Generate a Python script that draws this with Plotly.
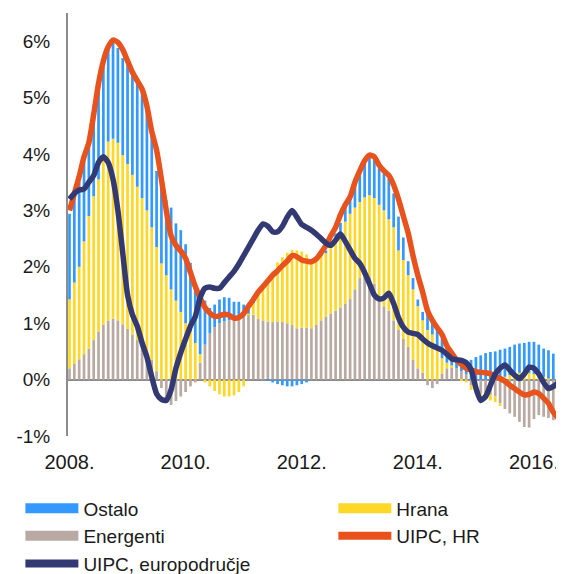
import plotly.graph_objects as go

# Monthly data, Jan 2008 - Jul 2016 (contributions in percentage points, rates in %)
year_labels = ["2008.", "2010.", "2012.", "2014.", "2016."]
year_months = [0, 24, 48, 72, 96]  # month index of January of each labelled year

energenti = [
    0.20, 0.28, 0.36, 0.45, 0.55, 0.70, 0.85, 0.97, 1.05, 1.08, 1.05, 0.98,
    0.90, 0.80, 0.70, 0.60, 0.48, 0.35, 0.15, -0.15, -0.40, -0.45, -0.38, -0.30,
    -0.22, -0.12, -0.05, 0.30, 0.62, 0.82, 0.93, 1.00, 1.03, 1.05, 1.08, 1.10,
    1.13, 1.15, 1.15, 1.08, 1.05, 1.03, 1.02, 1.03, 1.02, 1.00, 0.97, 0.91,
    0.92, 0.92, 0.91, 0.97, 1.05, 1.12, 1.17, 1.22, 1.28, 1.35, 1.44, 1.60,
    1.80, 1.85, 1.82, 1.70, 1.45, 1.30, 1.22, 1.05, 0.88, 0.72, 0.58, 0.35,
    0.20, 0.12, -0.10, -0.15, -0.08, 0.10, 0.20, 0.22, 0.20, 0.15, 0.10, -0.10,
    -0.20, -0.25, -0.28, -0.27, -0.30, -0.42, -0.52, -0.60, -0.66, -0.75, -0.84, -0.85,
    -0.70, -0.63, -0.66, -0.68, -0.72, -0.75, -0.77,
]
hrana = [
    1.22, 1.44, 1.64, 2.00, 2.35, 2.55, 2.70, 2.98, 3.17, 3.19, 3.15, 3.00,
    2.92, 2.83, 2.72, 2.62, 2.52, 2.35, 2.20, 2.06, 1.85, 1.60, 1.40, 1.20,
    1.00, 0.85, 0.65, 0.15, -0.05, -0.12, -0.20, -0.26, -0.30, -0.30, -0.28, -0.22,
    -0.12, 0.02, 0.20, 0.45, 0.60, 0.75, 0.90, 1.05, 1.15, 1.25, 1.33, 1.38,
    1.35, 1.30, 1.22, 1.18, 1.15, 1.12, 1.18, 1.25, 1.32, 1.45, 1.50, 1.45,
    1.35, 1.38, 1.45, 1.52, 1.65, 1.70, 1.62, 1.65, 1.41, 1.40, 1.27, 1.25,
    1.10, 0.93, 0.88, 0.80, 0.60, 0.28, 0.10, 0.03, 0.00, -0.02, -0.05, -0.08,
    -0.05, -0.02, -0.05, -0.10, -0.10, -0.05, 0.05, 0.08, 0.12, 0.12, 0.10, 0.12,
    0.10, 0.12, 0.05, 0.02, 0.00, -0.02, -0.03,
]
ostalo = [
    1.52, 1.53, 1.50, 1.40, 1.35, 1.45, 1.55, 1.71, 1.68, 1.73, 1.68, 1.72,
    1.75, 1.80, 1.87, 1.87, 1.80, 1.70, 1.35, 1.36, 1.33, 1.45, 1.37, 1.45,
    1.40, 1.22, 0.95, 0.99, 0.78, 0.45, 0.40, 0.42, 0.43, 0.40, 0.30, 0.28,
    0.20, 0.12, 0.05, 0.00, 0.00, -0.02, -0.05, -0.08, -0.10, -0.12, -0.12, -0.10,
    -0.08, -0.05, 0.00, 0.00, 0.02, 0.05, 0.08, 0.12, 0.18, 0.30, 0.35, 0.45,
    0.55, 0.65, 0.70, 0.70, 0.65, 0.65, 0.72, 0.60, 0.60, 0.40, 0.25, 0.20,
    0.12, 0.15, 0.30, 0.30, 0.35, 0.35, 0.30, 0.20, 0.15, 0.15, 0.20, 0.35,
    0.40, 0.43, 0.47, 0.49, 0.50, 0.53, 0.50, 0.50, 0.50, 0.52, 0.55, 0.55,
    0.57, 0.50, 0.50, 0.50, 0.46, 0.38, 0.35,
]
uipc_hr = [
    3.00, 3.30, 3.60, 3.95, 4.20, 4.70, 5.25, 5.65, 5.90, 6.02, 5.98, 5.85,
    5.65, 5.45, 5.30, 5.15, 4.85, 4.40, 4.07, 3.55, 3.00, 2.55, 2.38, 2.28,
    2.15, 1.90, 1.65, 1.45, 1.28, 1.18, 1.12, 1.13, 1.16, 1.14, 1.09, 1.10,
    1.17, 1.30, 1.42, 1.55, 1.65, 1.75, 1.85, 1.93, 2.02, 2.10, 2.20, 2.18,
    2.12, 2.10, 2.09, 2.14, 2.25, 2.38, 2.55, 2.70, 2.92, 3.10, 3.24, 3.50,
    3.70, 3.88, 3.98, 3.95, 3.80, 3.70, 3.62, 3.45, 3.20, 2.90, 2.60, 2.20,
    1.85, 1.55, 1.22, 1.05, 0.92, 0.80, 0.60, 0.47, 0.35, 0.27, 0.20, 0.17,
    0.14, 0.13, 0.12, 0.10, 0.06, 0.02, -0.03, -0.10, -0.16, -0.22, -0.27, -0.26,
    -0.22, -0.25, -0.33, -0.42, -0.58, -0.68, -0.76,
]
uipc_ea = [
    3.20, 3.30, 3.36, 3.38, 3.50, 3.62, 3.85, 3.95, 3.85, 3.55, 3.00, 2.25,
    1.50, 1.15, 0.95, 0.65, 0.40, 0.05, -0.25, -0.35, -0.37, -0.18, 0.20, 0.48,
    0.72, 0.95, 1.12, 1.45, 1.62, 1.64, 1.62, 1.62, 1.72, 1.82, 1.92, 2.05,
    2.20, 2.35, 2.50, 2.65, 2.76, 2.72, 2.62, 2.62, 2.72, 2.88, 3.00, 2.88,
    2.75, 2.70, 2.65, 2.58, 2.50, 2.42, 2.38, 2.47, 2.58, 2.45, 2.30, 2.15,
    2.06, 1.90, 1.70, 1.50, 1.43, 1.45, 1.53, 1.35, 1.10, 0.93, 0.84, 0.82,
    0.80, 0.72, 0.65, 0.60, 0.56, 0.52, 0.45, 0.37, 0.35, 0.34, 0.30, 0.18,
    -0.15, -0.37, -0.30, -0.10, 0.10, 0.20, 0.26, 0.17, 0.08, 0.02, 0.10, 0.22,
    0.20, 0.10, -0.05, -0.16, -0.12, -0.05, 0.10,
]
y_ticks = [-1, 0, 1, 2, 3, 4, 5, 6]
y_tick_labels = ["-1%", "0%", "1%", "2%", "3%", "4%", "5%", "6%"]

months = list(range(len(energenti)))

C_OSTALO = "#3399ff"
C_HRANA = "#ffd726"
C_ENERG = "#b8aaa2"
C_HR = "#e8521c"
C_EA = "#333a73"
FONT = "Arial, Liberation Sans, sans-serif"

fig = go.Figure()
for name, vals, col in [("Energenti", energenti, C_ENERG),
                        ("Hrana", hrana, C_HRANA),
                        ("Ostalo", ostalo, C_OSTALO)]:
    fig.add_trace(go.Bar(x=months, y=vals, name=name, marker_color=col,
                         marker_line_width=0, showlegend=False))

fig.add_trace(go.Scatter(x=months, y=uipc_hr, mode="lines", name="UIPC, HR",
                         line=dict(color=C_HR, width=5.5, shape="spline", smoothing=0.6),
                         showlegend=False))
fig.add_trace(go.Scatter(x=months, y=uipc_ea, mode="lines", name="UIPC, europodručje",
                         line=dict(color=C_EA, width=5.5, shape="spline", smoothing=0.6),
                         showlegend=False))

# legend entries (two columns)
legend_items = [
    ("Ostalo", C_OSTALO, 11, "legend"),
    ("Energenti", C_ENERG, 11, "legend"),
    ("UIPC, europodručje", C_EA, 8, "legend"),
    ("Hrana", C_HRANA, 11, "legend2"),
    ("UIPC, HR", C_HR, 8, "legend2"),
]
for name, col, w, lg in legend_items:
    fig.add_trace(go.Scatter(x=[None], y=[None], mode="lines", name=name,
                             line=dict(color=col, width=w), legend=lg,
                             showlegend=True, hoverinfo="skip"))

legend_common = dict(orientation="v", xanchor="left", yanchor="top",
                     font=dict(family=FONT, size=19, color="#1a1a1a"),
                     itemwidth=53, bgcolor="rgba(0,0,0,0)", borderwidth=0,
                     tracegroupgap=0, traceorder="normal")

# the page adds an 8px body margin, so the figure is sized to fit the window
fig.update_layout(
    width=556, height=566,
    margin=dict(l=60, r=0, t=5, b=138, autoexpand=False),
    plot_bgcolor="white", paper_bgcolor="white",
    barmode="relative", bargap=0.44,
    font=dict(family=FONT, color="#1a1a1a"),
    legend=dict(x=-0.096, y=-0.126, **legend_common),
    legend2=dict(x=0.535, y=-0.126, **legend_common),
    xaxis=dict(range=[-0.31, 102.21], tickmode="array", tickvals=year_months,
               ticktext=year_labels, showgrid=False, zeroline=False, showline=False,
               ticks="", tickfont=dict(family=FONT, size=20, color="#1a1a1a"),
               ticklabelstandoff=12, automargin=False),
    yaxis=dict(range=[-1, 6.5], tickmode="array", tickvals=y_ticks,
               ticktext=y_tick_labels, showgrid=False, zeroline=True,
               zerolinecolor="#8c8c8c", zerolinewidth=2,
               showline=True, linecolor="#8c8c8c", linewidth=2, ticks="",
               tickfont=dict(family=FONT, size=19, color="#1a1a1a"),
               ticklabelstandoff=12, automargin=False),
)

fig.write_html("out.html")
